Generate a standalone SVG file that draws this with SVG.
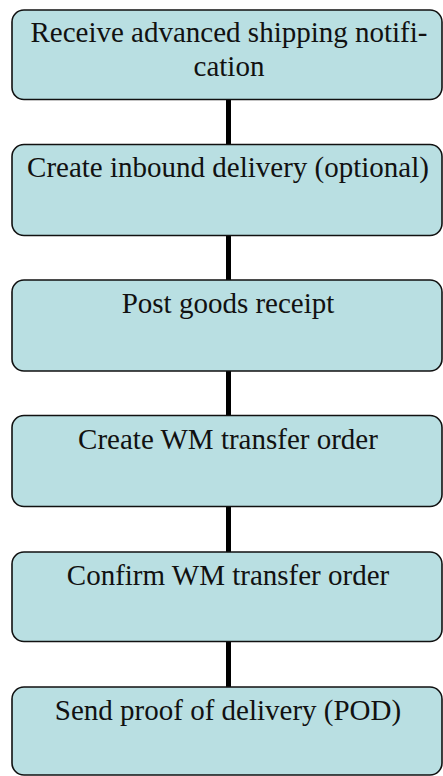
<svg xmlns="http://www.w3.org/2000/svg" width="443" height="776" viewBox="0 0 443 776">
  <style>
    .step rect { fill: #b9dfe2; stroke: #111; stroke-width: 1.6; }
    .step text { font-family: "Liberation Serif", "Times New Roman", serif; font-size: 29px; fill: #111; text-anchor: middle; }
    .link { stroke: #000; stroke-width: 5; fill: none; }
  </style>
  <rect width="443" height="776" fill="#fff"/>

  <!-- vertical connectors between the process steps -->
  <g id="connectors">
    <line class="link" x1="228.5" y1="100" x2="228.5" y2="145"/>
    <line class="link" x1="228.5" y1="235" x2="228.5" y2="280"/>
    <line class="link" x1="228.5" y1="370" x2="228.5" y2="416"/>
    <line class="link" x1="228.5" y1="506" x2="228.5" y2="552"/>
    <line class="link" x1="228.5" y1="642" x2="228.5" y2="687"/>
  </g>

  <g id="step-asn" class="step">
    <rect x="12" y="10" width="430" height="89.5" rx="12"/>
    <text x="229" y="42">Receive advanced shipping notifi-</text>
    <text x="229" y="75.5">cation</text>
  </g>

  <g id="step-inbound" class="step">
    <rect x="12" y="144.5" width="430" height="91" rx="12"/>
    <text x="228" y="176.5">Create inbound delivery (optional)</text>
  </g>

  <g id="step-gr" class="step">
    <rect x="12" y="280" width="430" height="91" rx="12"/>
    <text x="228" y="313">Post goods receipt</text>
  </g>

  <g id="step-create-to" class="step">
    <rect x="12" y="415.5" width="430" height="91" rx="12"/>
    <text x="228" y="449">Create WM transfer order</text>
  </g>

  <g id="step-confirm-to" class="step">
    <rect x="12" y="552" width="430" height="89.5" rx="12"/>
    <text x="228" y="585">Confirm WM transfer order</text>
  </g>

  <g id="step-pod" class="step">
    <rect x="12" y="687" width="430" height="88" rx="12"/>
    <text x="228" y="720">Send proof of delivery (POD)</text>
  </g>
</svg>
